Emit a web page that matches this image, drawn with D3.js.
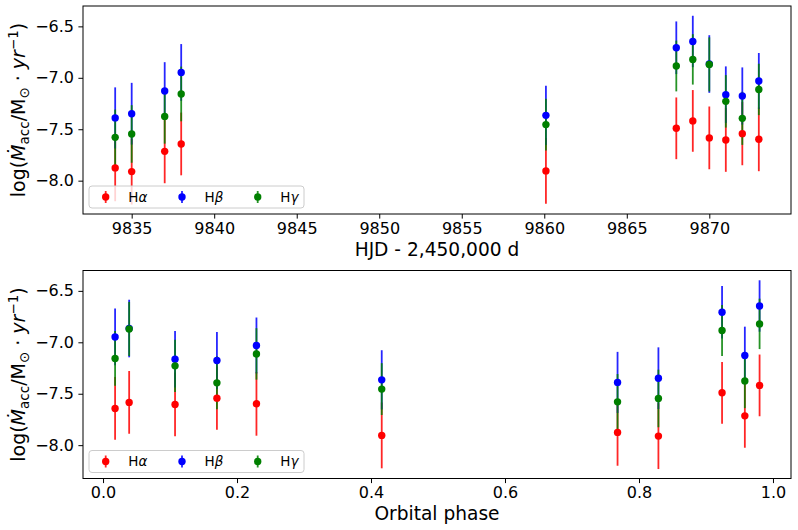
<!DOCTYPE html>
<html><head><meta charset="utf-8">
<script src="https://cdn.jsdelivr.net/npm/d3@7"></script>
<style>body{margin:0;background:#fff;} svg{display:block;font-family:"DejaVu Sans",sans-serif;}</style>
</head><body><svg id="c" width="798" height="530"></svg>
<script>
// Observations (HJD - 2,450,000) and their orbital phases
const hjd   = [9834, 9835, 9837, 9838, 9860.1, 9868, 9869, 9870, 9871, 9872, 9873];
const phase = [0.768, 0.829, 0.958, 0.018, 0.416, 0.924, 0.980, 0.039, 0.1075, 0.170, 0.229];
// log accretion rates and errors
const hAlpha    = [-7.876, -7.912, -7.715, -7.643, -7.905, -7.491, -7.419, -7.584, -7.604, -7.543, -7.598];
const hAlphaErr = [0.324, 0.320, 0.310, 0.305, 0.320, 0.300, 0.300, 0.305, 0.310, 0.307, 0.310];
const hBeta     = [-7.390, -7.349, -7.128, -6.948, -7.365, -6.708, -6.647, -6.866, -7.164, -7.177, -7.031];
const hBetaErr  = [0.297, 0.300, 0.280, 0.276, 0.288, 0.256, 0.250, 0.280, 0.275, 0.278, 0.272];
const hGamma    = [-7.579, -7.546, -7.375, -7.157, -7.455, -6.885, -6.821, -6.870, -7.229, -7.394, -7.113];
const hGammaErr = [0.270, 0.280, 0.265, 0.266, 0.252, 0.247, 0.245, 0.263, 0.255, 0.258, 0.250];
const seriesNames  = ["α", "β", "γ"];
const seriesColors = ["#ff0000", "#0000ff", "#008000"];
const hjdTicks   = [9835, 9840, 9845, 9850, 9855, 9860, 9865, 9870];
const phaseTicks = [0.0, 0.2, 0.4, 0.6, 0.8, 1.0];
const yTicks     = [-8.0, -7.5, -7.0, -6.5];

const series = [
  {vals: hAlpha, errs: hAlphaErr},
  {vals: hBeta,  errs: hBetaErr},
  {vals: hGamma, errs: hGammaErr}
];

const svg = d3.select("#c");
const L = 83, R = 791;
const panels = [
  {top: 6,     bottom: 214,   xs: hjd,   domain: [9832.05, 9874.95], ticks: hjdTicks,   fmt: d3.format("d"),   label: "HJD - 2,450,000 d"},
  {top: 270.5, bottom: 478.5, xs: phase, domain: [-0.0299, 1.0269],  ticks: phaseTicks, fmt: d3.format(".1f"), label: "Orbital phase"}
];

panels.forEach(p => {
  const x = d3.scaleLinear().domain(p.domain).range([L, R]);
  const y = d3.scaleLinear().domain([-8.324, -6.302]).range([p.bottom, p.top]);
  const g = svg.append("g");

  series.forEach((s, si) => {
    g.append("g").selectAll("line").data(s.vals).join("line")
      .attr("x1", (d, i) => x(p.xs[i])).attr("x2", (d, i) => x(p.xs[i]))
      .attr("y1", (d, i) => y(d - s.errs[i])).attr("y2", (d, i) => y(d + s.errs[i]))
      .attr("stroke", seriesColors[si]).attr("stroke-width", 1.8).attr("stroke-opacity", 0.85);
  });
  series.forEach((s, si) => {
    g.append("g").selectAll("circle").data(s.vals).join("circle")
      .attr("cx", (d, i) => x(p.xs[i])).attr("cy", d => y(d))
      .attr("r", 3.7).attr("fill", seriesColors[si]);
  });

  const xa = svg.append("g").attr("transform", `translate(0,${p.bottom})`)
    .call(d3.axisBottom(x).tickValues(p.ticks).tickFormat(p.fmt).tickSize(4.6).tickPadding(4));
  const ya = svg.append("g").attr("transform", `translate(${L},0)`)
    .call(d3.axisLeft(y).tickValues(yTicks).tickFormat(d3.format(".1f")).tickSize(4.6).tickPadding(4.4));
  [xa, ya].forEach(a => {
    a.select(".domain").remove();
    a.selectAll("line").attr("stroke", "#000").attr("stroke-width", 1);
    a.selectAll("text").attr("font-family", "DejaVu Sans").attr("font-size", 16).attr("fill", "#000");
  });

  svg.append("rect").attr("x", L).attr("y", p.top).attr("width", R - L).attr("height", p.bottom - p.top)
    .attr("fill", "none").attr("stroke", "#000").attr("stroke-width", 1);

  svg.append("text").attr("x", (L + R) / 2).attr("y", p.bottom + 41.5)
    .attr("text-anchor", "middle").attr("font-size", 18.6).text(p.label);

  const cy = (p.top + p.bottom) / 2;
  const t = svg.append("text").attr("transform", `translate(25,${cy}) rotate(-90)`)
    .attr("text-anchor", "middle").attr("font-size", 19);
  t.append("tspan").text("log(");
  t.append("tspan").attr("font-style", "italic").text("Ṁ");
  t.append("tspan").attr("font-size", 13.5).attr("dy", 4).text("acc");
  t.append("tspan").attr("dy", -4).text("/M");
  t.append("tspan").attr("font-size", 13.5).attr("dy", 4).text("⊙");
  t.append("tspan").attr("dy", -4).text(" · ");
  t.append("tspan").attr("font-style", "italic").text("yr");
  t.append("tspan").attr("font-size", 13.5).attr("dy", -7).text("−1");
  t.append("tspan").attr("dy", 7).text(")");

  const lh = 22, lb = p.bottom - 6;
  const lg = svg.append("g").attr("transform", `translate(89,${lb - lh})`);
  lg.append("rect").attr("width", 215).attr("height", lh).attr("rx", 3)
    .attr("fill", "#fff").attr("fill-opacity", 0.8).attr("stroke", "#cccccc").attr("stroke-width", 1);
  const mx = [16.7, 93, 168.7];
  seriesNames.forEach((n, i) => {
    lg.append("line").attr("x1", mx[i]).attr("x2", mx[i]).attr("y1", lh / 2 - 6).attr("y2", lh / 2 + 6)
      .attr("stroke", seriesColors[i]).attr("stroke-width", 1.8).attr("stroke-opacity", 0.85);
    lg.append("circle").attr("cx", mx[i]).attr("cy", lh / 2).attr("r", 3.7).attr("fill", seriesColors[i]);
    const tt = lg.append("text").attr("x", mx[i] + 22.6).attr("y", lh / 2).attr("dy", "0.36em").attr("font-size", 13.5);
    tt.append("tspan").text("H");
    tt.append("tspan").attr("font-style", "italic").text(n);
  });
});
</script></body></html>
